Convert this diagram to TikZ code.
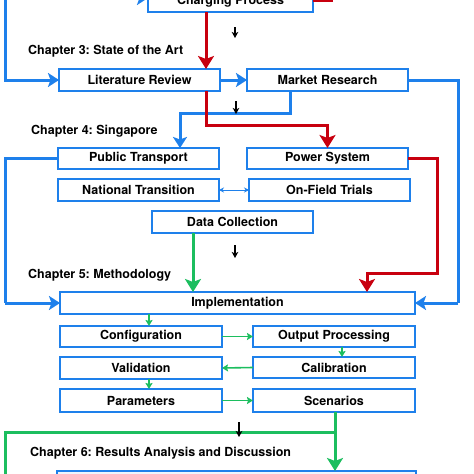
\documentclass[tikz,border=0pt]{standalone}
\usepackage{fontspec}
\setsansfont{TeX Gyre Heros}
\frenchspacing
\usetikzlibrary{arrows.meta,calc}
\definecolor{cblue}{RGB}{30,128,235}
\definecolor{cgreen}{RGB}{28,190,95}
\definecolor{cred}{RGB}{200,0,15}
\tikzset{
  box/.style={draw=cblue, line width=1.9pt, fill=white, inner sep=0pt, outer sep=0pt,
    font=\sffamily\bfseries\fontsize{12.5}{14}\selectfont, minimum height=22pt},
  chap/.style={anchor=west, inner sep=0pt, font=\sffamily\bfseries\fontsize{12.5}{14}\selectfont},
  bluearr/.style={draw=cblue, line width=3pt, line join=miter, -{Stealth[length=11pt,width=14pt,inset=2.5pt]}},
  blueline/.style={draw=cblue, line width=3pt, line join=miter},
  redarr/.style={draw=cred, line width=3pt, line join=miter, -{Stealth[length=13pt,width=16pt,inset=3pt]}},
  redline/.style={draw=cred, line width=3pt},
  greenthick/.style={draw=cgreen, line width=3pt, -{Stealth[length=13pt,width=16pt,inset=3pt]}},
  greenline/.style={draw=cgreen, line width=3pt, line join=miter},
  greenthin/.style={draw=cgreen, line width=1.6pt, -{Stealth[length=6pt,width=7pt,inset=1pt]}},
  bluethin/.style={draw=cblue, line width=1pt, {Stealth[length=5pt,width=5pt]}-{Stealth[length=5pt,width=5pt]}},
  blackarr/.style={draw=black, line width=1.2pt, -{Stealth[length=6pt,width=6.5pt,inset=1.5pt]}},
}
\begin{document}
\begin{tikzpicture}[x=1pt,y=-1pt]
\useasboundingbox (0,0) rectangle (474,474);
\clip (0,0) rectangle (474,474);
\fill[white] (0,0) rectangle (474,474);

% nodes
\node[box, minimum width=165pt] (chg) at (230.5,1) {\raisebox{-3pt}{Charging Process}};
\node[box, minimum width=161pt] (lit) at (139.5,80) {Literature Review};
\node[box, minimum width=161pt] (mkt) at (327.5,80) {Market Research};
\node[box, minimum width=161pt, minimum height=21pt] (pub) at (138.5,158.5) {Public Transport};
\node[box, minimum width=161pt, minimum height=21pt] (pow) at (327.5,158.5) {Power System};
\node[box, minimum width=161pt] (nat) at (138.5,190) {National Transition};
\node[box, minimum width=161pt] (onf) at (329.5,190) {On-Field Trials};
\node[box, minimum width=161pt] (dat) at (232.5,222) {Data Collection};
\node[box, minimum width=355pt] (imp) at (237.5,303) {Implementation};
\node[box, minimum width=162pt, minimum height=21pt] (cfg) at (141,336.5) {Configuration};
\node[box, minimum width=162pt, minimum height=21pt] (out) at (334,336.5) {Output Processing};
\node[box, minimum width=162pt] (val) at (141,368) {Validation};
\node[box, minimum width=162pt, minimum height=21pt] (cal) at (334,367.5) {Calibration};
\node[box, minimum width=162pt, minimum height=23pt] (par) at (141,400.5) {Parameters};
\node[box, minimum width=162pt, minimum height=23pt] (scn) at (334,400.5) {Scenarios};
\node[box, minimum width=359pt, minimum height=24pt, fill=cblue!8] (res) at (236.5,483) {};

% chapter labels
\node[chap] (c3) at (28,51) {Chapter 3: State of the Art};
\node[chap] (c4) at (31,131) {Chapter 4: Singapore};
\node[chap] (c5) at (28,275) {Chapter 5: Methodology};
\node[chap] (c6) at (30,453) {Chapter 6: Results Analysis and Discussion};

% helper coordinates
\coordinate (tl) at (5,-10);
\coordinate (cin) at (100,-2);
\coordinate (rtop) at (331,-20);
\coordinate (rx) at (206,0);
\coordinate (ry1) at (0,125);
\coordinate (bx) at (290,0);
\coordinate (by) at (0,113);
\coordinate (bx2) at (180,0);
\coordinate (rgx) at (458,80);
\coordinate (rgy) at (458,303);
\coordinate (lx) at (5,158.5);
\coordinate (ly) at (5,303);
\coordinate (px) at (437,0);
\coordinate (py) at (0,273);
\coordinate (ix) at (367,0);
\coordinate (gx) at (193,0);
\coordinate (sx) at (149,0);
\coordinate (ox) at (342,0);
\coordinate (scx) at (335,0);
\coordinate (gy) at (0,432);
\coordinate (gb) at (5,490);

% blue connectors
\draw[bluearr] (tl) -- (tl |- lit.west) -- (lit.west);
\draw[bluearr] (cin) -- (cin -| chg.west);
\draw[bluearr] (lit.east) -- (mkt.west);
\draw[bluearr] (mkt.south -| bx) -- (by -| bx) -- (by -| bx2) -- (pub.north -| bx2);
\draw[blueline] (mkt.east) -- (rgx) -- (rgy);
\draw[bluearr] (rgy) -- (imp.east);
\draw[blueline] (pub.west) -- (lx) -- (ly);
\draw[bluearr] (ly) -- (imp.west);
\draw[bluethin] (nat.east) -- (onf.west);

% red connectors
\draw[redline] (chg.east |- 0,0.5) -- (rtop |- 0,0.5) -- (rtop);
\draw[redarr] (chg.south -| rx) -- (lit.north -| rx);
\draw[redarr] (lit.south -| rx) -- (ry1 -| rx) -- (ry1 -| pow.north) -- (pow.north);
\draw[redarr] (pow.east) -- (px |- pow.east) -- (px |- py) -- (ix |- py) -- (imp.north -| ix);

% green connectors
\draw[greenthick] (dat.south -| gx) -- (imp.north -| gx);
\draw[greenthin] (imp.south -| sx) -- (cfg.north -| sx);
\draw[greenthin] (cfg.east) -- (out.west);
\draw[greenthin] (out.south -| ox) -- (cal.north -| ox);
\draw[greenthin] (cal.west) -- (val.east);
\draw[greenthin] (val.south -| sx) -- (par.north -| sx);
\draw[greenthin] (par.east) -- (scn.west);
\draw[greenthick] (scn.south -| scx) -- (res.north -| scx);
\draw[greenline] (scx |- gy) -- (gb |- gy) -- (gb);

% black step arrows
\coordinate (k1a) at (235,27); \coordinate (k1b) at (235,38);
\coordinate (k2a) at (236,101); \coordinate (k2b) at (236,114);
\coordinate (k3a) at (235,245); \coordinate (k3b) at (235,258);
\coordinate (k4a) at (239,422); \coordinate (k4b) at (239,437);
\draw[blackarr] (k1a) -- (k1b);
\draw[blackarr] (k2a) -- (k2b);
\draw[blackarr] (k3a) -- (k3b);
\draw[blackarr] (k4a) -- (k4b);
\end{tikzpicture}
\end{document}
